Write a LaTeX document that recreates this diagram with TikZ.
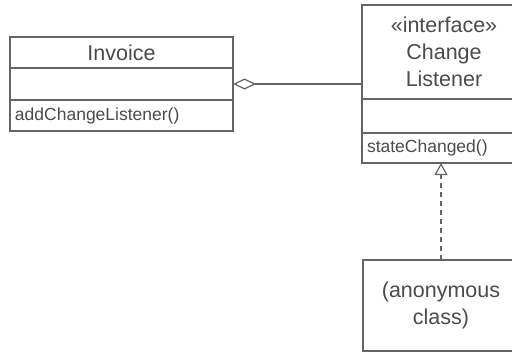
\documentclass[tikz,border=0pt]{standalone}
\usepackage{fontspec}
\setmainfont{Liberation Sans}
\usetikzlibrary{arrows.meta, positioning}
\definecolor{umlline}{RGB}{100,100,100}
\definecolor{umltext}{RGB}{75,75,75}

\begin{document}
\begin{tikzpicture}[
    x=1pt, y=-1pt,
    comp/.style={draw=umlline, line width=1.2pt, rectangle, inner sep=0pt, outer sep=0pt, text=umltext},
    title/.style={comp, align=center, font=\fontsize{21.5}{27}\selectfont},
    ops/.style={comp, align=left, inner xsep=5pt, font=\fontsize{17.5}{21}\selectfont},
    aggr/.style={{Diamond[open, length=23pt, width=11pt]}-, draw=umlline, line width=1.2pt},
    real/.style={-{Triangle[open, length=12pt, width=13pt]}, draw=umlline,
                 line width=1.2pt, dash pattern=on 5pt off 4pt}
  ]
  \useasboundingbox (0,0) rectangle (512,354);
  \clip (0,0) rectangle (512,354);

  \node[title, minimum width=223pt, minimum height=31pt, anchor=north west] (invName) at (10,37) {Invoice};
  \node[comp, minimum width=223pt, minimum height=32pt, below=0pt of invName] (invAttr) {};
  \node[ops, text width=213pt, minimum height=31pt, below=0pt of invAttr] (invOps) {addChangeListener()};

  \node[title, minimum width=164pt, minimum height=94pt, anchor=north west] (lisName) at (362,5)
    {«interface»\\Change\\Listener};
  \node[comp, minimum width=164pt, minimum height=34pt, below=0pt of lisName] (lisAttr) {};
  \node[ops, text width=154pt, minimum height=30pt, below=0pt of lisAttr] (lisOps) {stateChanged()};

  \node[title, minimum width=156pt, minimum height=91pt, anchor=north west] (anon) at (363,260)
    {(anonymous\\class)};

  \draw[aggr] (invAttr.east) -- (invAttr.east -| lisName.west);
  \draw[real] (anon.north) -- (anon.north |- lisOps.south);
\end{tikzpicture}
\end{document}
